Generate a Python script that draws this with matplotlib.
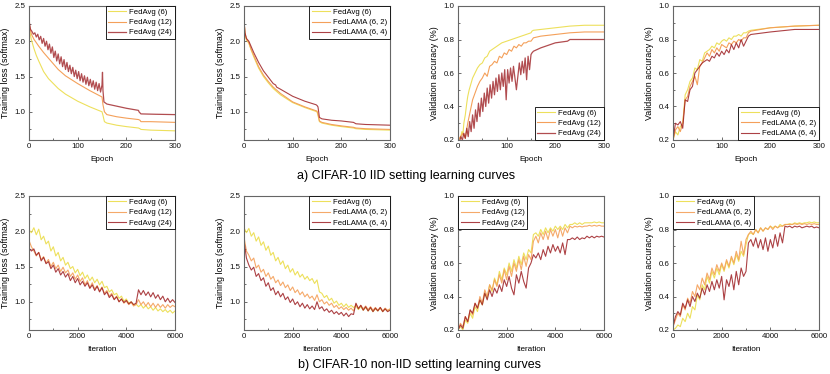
import numpy as np
import matplotlib
matplotlib.use("Agg")
import matplotlib.pyplot as plt
from matplotlib.ticker import AutoMinorLocator, MultipleLocator

plt.rcParams['font.family'] = ['Liberation Sans', 'DejaVu Sans']

C_Y = '#ede05c'
C_O = '#f4a05a'
C_R = '#9e2024'

# ---------------- top row data (epochs) ----------------
ep_s = [0, 2, 5, 10, 15, 20, 30, 40, 50, 60, 75, 100, 125, 150, 152, 155, 160, 180, 200, 225, 228, 230, 250, 300]
p1_y = [2.25, 2.12, 2.02, 1.9, 1.8, 1.72, 1.57, 1.47, 1.4, 1.33, 1.25, 1.15, 1.07, 1.0, 0.95, 0.86, 0.84, 0.81, 0.79, 0.77, 0.76, 0.75, 0.74, 0.73]
p1_o = [2.27, 2.18, 2.1, 2.03, 1.98, 1.93, 1.84, 1.76, 1.68, 1.6, 1.51, 1.4, 1.3, 1.21, 1.1, 1.0, 0.96, 0.93, 0.91, 0.89, 0.88, 0.86, 0.86, 0.85]

ep_d = [0, 3, 6, 9, 12, 15, 18, 21, 24, 27, 30, 33, 36, 39, 42, 45, 48, 51, 54, 57, 60, 63, 66, 69, 72,
        75, 78, 81, 84, 87, 90, 93, 96, 99, 102, 105, 108, 111, 114, 117, 120, 123, 126, 129, 132,
        135, 138, 141, 144, 147, 150]
p1_r_x = ep_d + [151, 152, 154, 160, 180, 200, 225, 226, 230, 260, 300]
p1_r = [2.30, 2.17, 2.14, 2.10, 2.12, 2.06, 2.10, 2.02, 2.07, 1.97, 2.04, 1.93, 2.00, 1.88, 1.96, 1.83,
        1.92, 1.77, 1.86, 1.72, 1.82, 1.68, 1.78, 1.64, 1.74, 1.60, 1.70, 1.57, 1.66, 1.54, 1.63, 1.50,
        1.59, 1.47, 1.57, 1.44, 1.54, 1.42, 1.51, 1.39, 1.49, 1.37, 1.46, 1.35, 1.44, 1.32, 1.42, 1.30,
        1.40, 1.28, 1.38,
        1.56, 1.30, 1.14, 1.11, 1.08, 1.05, 1.02, 1.0, 0.97, 0.965, 0.96]

ep_s2 = [0, 2, 5, 10, 15, 20, 30, 40, 50, 60, 75, 100, 125, 150, 152, 155, 160, 180, 200, 225, 230, 250, 300]
p2_y = [2.3, 2.1, 2.02, 1.97, 1.87, 1.78, 1.62, 1.5, 1.41, 1.33, 1.24, 1.13, 1.06, 1.0, 0.95, 0.86, 0.84, 0.81, 0.79, 0.77, 0.76, 0.75, 0.74]
p2_o = [2.3, 2.12, 2.03, 1.98, 1.88, 1.8, 1.64, 1.52, 1.43, 1.35, 1.26, 1.14, 1.07, 1.01, 0.97, 0.87, 0.85, 0.82, 0.8, 0.78, 0.77, 0.76, 0.75]
p2_r_x = [0, 2, 5, 10, 15, 20, 30, 40, 50, 60, 65, 67, 75, 100, 125, 148, 150, 152, 155, 160, 180, 200, 225, 230, 250, 300]
p2_r = [2.3, 2.12, 2.04, 2.0, 1.92, 1.84, 1.7, 1.58, 1.49, 1.4, 1.38, 1.35, 1.32, 1.22, 1.15, 1.1, 1.09, 1.07, 0.92, 0.9, 0.88, 0.87, 0.85, 0.83, 0.82, 0.81]

ep_n = [0, 5, 10, 15, 20, 25, 30, 35, 40, 45, 50, 55, 60, 65, 70, 75, 80, 85, 90, 95, 100,
        105, 110, 115, 120, 125, 130, 135, 140, 145, 150]
p3_y_x = [0, 5, 8, 10, 12, 15, 18, 20, 23, 25, 28, 30, 35, 40, 45, 50, 55, 60, 65, 70, 75, 80, 90, 100, 110, 120, 130, 140, 150, 152, 155, 170, 200, 230, 260, 300]
p3_y = [0.2, 0.21, 0.25, 0.23, 0.3, 0.35, 0.42, 0.46, 0.5, 0.52, 0.55, 0.57, 0.6, 0.63, 0.65, 0.66, 0.69, 0.7, 0.73, 0.74, 0.75, 0.76, 0.78, 0.79, 0.8, 0.81, 0.82, 0.83, 0.84, 0.85, 0.855, 0.86, 0.87, 0.88, 0.885, 0.885]
p3_o_x = ep_n + [155, 170, 200, 230, 260, 300]
p3_o = [0.2, 0.22, 0.24, 0.21, 0.3, 0.37, 0.44, 0.48, 0.52, 0.55, 0.57, 0.6, 0.58, 0.64, 0.65, 0.67, 0.66, 0.7,
        0.69, 0.72, 0.71, 0.74, 0.73, 0.76, 0.75, 0.77, 0.76, 0.78, 0.78, 0.79, 0.79,
        0.81, 0.82, 0.83, 0.84, 0.845, 0.845]
p3_r_x = ep_d + [152, 155, 170, 200, 225, 230, 300]
p3_r = [0.20, 0.19, 0.22, 0.20, 0.24, 0.21, 0.27, 0.22, 0.31, 0.25, 0.35, 0.27, 0.38, 0.31, 0.42, 0.34,
        0.45, 0.37, 0.48, 0.40, 0.51, 0.42, 0.53, 0.45, 0.55, 0.47, 0.57, 0.49, 0.59, 0.50, 0.60, 0.52,
        0.62, 0.44, 0.62, 0.54, 0.63, 0.55, 0.64, 0.57, 0.50, 0.58, 0.66, 0.59, 0.67, 0.60, 0.69, 0.56,
        0.70, 0.62, 0.71,
        0.72, 0.73, 0.75, 0.78, 0.79, 0.8, 0.8]

p4_x = ep_n + [155, 160, 200, 250, 300]
p4_y = [0.2, 0.25, 0.23, 0.28, 0.3, 0.47, 0.5, 0.55, 0.57, 0.63, 0.62, 0.68, 0.67, 0.72, 0.73, 0.74, 0.76,
        0.75, 0.78, 0.77, 0.79, 0.8, 0.79, 0.81, 0.8, 0.82, 0.82, 0.83, 0.82, 0.84, 0.84,
        0.85, 0.855, 0.87, 0.88, 0.885]
p4_o = [0.2, 0.26, 0.28, 0.25, 0.3, 0.44, 0.46, 0.52, 0.55, 0.58, 0.53, 0.64, 0.66, 0.69, 0.72, 0.7, 0.74,
        0.72, 0.75, 0.73, 0.77, 0.76, 0.75, 0.78, 0.77, 0.79, 0.78, 0.8, 0.79, 0.81, 0.81,
        0.84, 0.85, 0.87, 0.88, 0.885]
p4_r = [0.2, 0.3, 0.29, 0.31, 0.27, 0.44, 0.43, 0.5, 0.52, 0.6, 0.62, 0.64, 0.66, 0.67, 0.68, 0.67, 0.7,
        0.69, 0.72, 0.7, 0.73, 0.71, 0.74, 0.72, 0.77, 0.74, 0.78, 0.75, 0.8, 0.76, 0.79,
        0.82, 0.83, 0.845, 0.86, 0.86]

# ---------------- bottom row data (iterations, every 100) ----------------
it = list(range(0, 6001, 100))
p5_y = [2.02, 1.98, 2.05, 1.95, 2.03, 1.88, 1.93, 1.82, 1.86, 1.72, 1.78, 1.65, 1.7, 1.58, 1.63, 1.52, 1.56,
        1.47, 1.5, 1.41, 1.46, 1.37, 1.42, 1.33, 1.38, 1.3, 1.35, 1.27, 1.32, 1.24, 1.29, 1.2, 1.22, 1.14,
        1.17, 1.1, 1.12, 1.05, 1.08, 1.01, 1.04, 0.98, 1.0, 0.95, 0.97, 0.93, 0.96, 0.91, 0.95, 0.9, 0.93,
        0.88, 0.92, 0.87, 0.9, 0.86, 0.89, 0.85, 0.88, 0.84, 0.87]
p5_o = [1.87, 1.78, 1.72, 1.65, 1.7, 1.6, 1.64, 1.55, 1.6, 1.5, 1.56, 1.47, 1.52, 1.43, 1.49, 1.41, 1.45,
        1.36, 1.41, 1.32, 1.38, 1.29, 1.34, 1.24, 1.3, 1.2, 1.27, 1.18, 1.23, 1.15, 1.21, 1.12, 1.16, 1.08,
        1.12, 1.04, 1.08, 1.0, 1.04, 0.98, 1.01, 0.96, 0.99, 0.94, 0.96, 1.03, 0.96, 1.0, 0.94, 0.99, 0.93,
        0.98, 0.92, 0.97, 0.92, 0.96, 0.91, 0.96, 0.92, 0.95, 0.93]
p5_r = [1.76, 1.72, 1.75, 1.66, 1.7, 1.58, 1.63, 1.54, 1.57, 1.47, 1.52, 1.42, 1.47, 1.38, 1.43, 1.35, 1.4,
        1.3, 1.36, 1.27, 1.33, 1.24, 1.29, 1.22, 1.27, 1.19, 1.24, 1.16, 1.22, 1.14, 1.2, 1.1, 1.14, 1.06,
        1.1, 1.03, 1.07, 1.0, 1.04, 0.99, 1.02, 0.97, 1.0, 0.96, 0.98, 1.17, 1.1, 1.16, 1.09, 1.14, 1.07,
        1.13, 1.05, 1.1, 1.03, 1.08, 1.0, 1.05, 0.99, 1.03, 0.99]

p6_y = [2.05, 1.98, 2.04, 1.93, 1.98, 1.86, 1.92, 1.8, 1.85, 1.73, 1.79, 1.66, 1.7, 1.58, 1.63, 1.53, 1.58,
        1.47, 1.52, 1.42, 1.47, 1.38, 1.43, 1.35, 1.39, 1.32, 1.36, 1.3, 1.33, 1.26, 1.31, 1.14, 1.12, 1.06,
        1.09, 1.02, 1.05, 0.98, 1.01, 0.95, 0.98, 0.93, 0.97, 0.92, 0.95, 0.92, 0.94, 0.89, 0.93, 0.88, 0.92,
        0.87, 0.91, 0.86, 0.9, 0.87, 0.91, 0.86, 0.9, 0.87, 0.89]
p6_o = [1.92, 1.72, 1.66, 1.58, 1.62, 1.48, 1.52, 1.42, 1.46, 1.36, 1.41, 1.32, 1.36, 1.27, 1.31, 1.23, 1.28,
        1.2, 1.24, 1.16, 1.21, 1.13, 1.17, 1.1, 1.14, 1.07, 1.11, 1.05, 1.08, 1.02, 1.1, 1.0, 1.03, 0.97,
        1.0, 0.95, 0.98, 0.92, 0.95, 0.9, 0.93, 0.89, 0.92, 0.88, 0.91, 0.87, 0.97, 0.91, 0.95, 0.9, 0.94,
        0.89, 0.93, 0.88, 0.92, 0.88, 0.92, 0.87, 0.91, 0.88, 0.9]
p6_r = [1.87, 1.62, 1.52, 1.45, 1.49, 1.36, 1.4, 1.3, 1.34, 1.22, 1.27, 1.16, 1.2, 1.1, 1.15, 1.07, 1.12,
        1.03, 1.07, 0.99, 1.04, 0.96, 1.0, 0.93, 0.98, 0.91, 0.96, 0.9, 0.94, 0.89, 1.0, 0.9, 0.93, 0.87,
        0.9, 0.85, 0.88, 0.83, 0.86, 0.82, 0.85, 0.8, 0.84, 0.79, 0.83, 0.82, 0.98, 0.9, 0.95, 0.88, 0.93,
        0.87, 0.92, 0.86, 0.91, 0.87, 0.92, 0.86, 0.9, 0.86, 0.88]

p7_y = [0.2, 0.22, 0.2, 0.26, 0.24, 0.3, 0.27, 0.34, 0.31, 0.38, 0.35, 0.42, 0.39, 0.47, 0.43, 0.51, 0.47,
        0.55, 0.5, 0.57, 0.53, 0.6, 0.55, 0.62, 0.57, 0.64, 0.59, 0.66, 0.62, 0.68, 0.66, 0.77, 0.78, 0.76,
        0.8, 0.77, 0.81, 0.78, 0.81, 0.79, 0.82, 0.8, 0.82, 0.8, 0.83, 0.81, 0.83, 0.83, 0.84, 0.83, 0.84,
        0.83, 0.84, 0.84, 0.84, 0.84, 0.845, 0.84, 0.845, 0.84, 0.84]
p7_o = [0.2, 0.24, 0.22, 0.28, 0.25, 0.32, 0.29, 0.36, 0.33, 0.4, 0.36, 0.44, 0.4, 0.47, 0.44, 0.5, 0.46,
        0.53, 0.48, 0.56, 0.5, 0.58, 0.52, 0.6, 0.55, 0.62, 0.56, 0.64, 0.58, 0.65, 0.62, 0.73, 0.76, 0.72,
        0.78, 0.74, 0.79, 0.74, 0.8, 0.76, 0.8, 0.75, 0.81, 0.76, 0.81, 0.78, 0.82, 0.81, 0.82, 0.815, 0.82,
        0.815, 0.82, 0.82, 0.825, 0.82, 0.825, 0.82, 0.825, 0.82, 0.82]
p7_r = [0.2, 0.23, 0.21, 0.28, 0.25, 0.32, 0.3, 0.36, 0.33, 0.38, 0.35, 0.42, 0.38, 0.44, 0.4, 0.45, 0.42,
        0.47, 0.43, 0.5, 0.46, 0.52, 0.45, 0.41, 0.53, 0.48, 0.55, 0.49, 0.45, 0.57, 0.6, 0.65, 0.63, 0.66,
        0.62, 0.68, 0.64, 0.7, 0.66, 0.71, 0.67, 0.7, 0.66, 0.72, 0.65, 0.74, 0.74, 0.75, 0.74, 0.755, 0.74,
        0.75, 0.745, 0.76, 0.75, 0.76, 0.75, 0.76, 0.755, 0.76, 0.755]

p8_y = [0.2, 0.21, 0.23, 0.22, 0.27, 0.25, 0.3, 0.27, 0.34, 0.32, 0.41, 0.38, 0.47, 0.44, 0.52, 0.48, 0.55,
        0.51, 0.57, 0.53, 0.59, 0.55, 0.61, 0.57, 0.63, 0.59, 0.65, 0.61, 0.67, 0.64, 0.71, 0.77, 0.78, 0.77,
        0.8, 0.78, 0.81, 0.79, 0.81, 0.8, 0.82, 0.81, 0.82, 0.81, 0.83, 0.82, 0.83, 0.83, 0.835, 0.83, 0.84,
        0.835, 0.84, 0.835, 0.84, 0.84, 0.845, 0.84, 0.845, 0.84, 0.84]
p8_o = [0.22, 0.26, 0.3, 0.28, 0.35, 0.32, 0.39, 0.36, 0.43, 0.4, 0.47, 0.44, 0.51, 0.47, 0.54, 0.5, 0.57,
        0.53, 0.59, 0.55, 0.6, 0.56, 0.62, 0.58, 0.64, 0.6, 0.67, 0.62, 0.73, 0.65, 0.74, 0.77, 0.79, 0.77,
        0.8, 0.78, 0.81, 0.79, 0.81, 0.8, 0.82, 0.8, 0.82, 0.81, 0.82, 0.82, 0.83, 0.83, 0.83, 0.83, 0.835,
        0.83, 0.835, 0.83, 0.835, 0.83, 0.835, 0.83, 0.835, 0.83, 0.83]
p8_r = [0.22, 0.28, 0.31, 0.29, 0.36, 0.33, 0.38, 0.34, 0.4, 0.37, 0.42, 0.39, 0.45, 0.41, 0.47, 0.43, 0.49,
        0.44, 0.5, 0.45, 0.52, 0.38, 0.5, 0.46, 0.53, 0.44, 0.55, 0.47, 0.57, 0.52, 0.55, 0.72, 0.74, 0.7,
        0.75, 0.69, 0.74, 0.68, 0.75, 0.67, 0.74, 0.69, 0.77, 0.7, 0.78, 0.72, 0.82, 0.815, 0.82, 0.81, 0.82,
        0.815, 0.82, 0.81, 0.815, 0.82, 0.815, 0.82, 0.81, 0.815, 0.81]

lab_avg = ['FedAvg (6)', 'FedAvg (12)', 'FedAvg (24)']
lab_lama = ['FedAvg (6)', 'FedLAMA (6, 2)', 'FedLAMA (6, 4)']

W, H = 830, 374
fig = plt.figure(figsize=(W / 100, H / 100), dpi=100)

lefts = [29, 244, 458, 673]
aw = 146
tops = [6, 196]
ah = 134


def make_ax(col, row):
    l = lefts[col]
    t = tops[row]
    ax = fig.add_axes([l / W, 1 - (t + ah) / H, aw / W, ah / H])
    for s in ax.spines.values():
        s.set_color('#666666')
        s.set_linewidth(0.8)
    ax.tick_params(which='both', direction='in', colors='#555555', labelcolor='#111111',
                   labelsize=5.7, width=0.6, pad=2.5)
    ax.tick_params(which='major', length=2.5)
    ax.tick_params(which='minor', length=1.5)
    ax.xaxis.set_minor_locator(AutoMinorLocator(2))
    ax.yaxis.set_minor_locator(AutoMinorLocator(2))
    return ax


def style(ax, kind, xlab, labels, loc):
    if kind == 'loss':
        ax.set_ylim(0.6, 2.5)
        ax.yaxis.set_major_locator(MultipleLocator(0.5))
        ax.set_ylabel('Training loss (softmax)', fontsize=6.4, labelpad=3)
    else:
        ax.set_ylim(0.2, 1.0)
        ax.yaxis.set_major_locator(MultipleLocator(0.2))
        ax.set_ylabel('Validation accuracy (%)', fontsize=6.4, labelpad=3)
    if xlab == 'Epoch':
        ax.set_xlim(0, 300)
        ax.xaxis.set_major_locator(MultipleLocator(100))
    else:
        ax.set_xlim(0, 6000)
        ax.xaxis.set_major_locator(MultipleLocator(2000))
    ax.set_xlabel(xlab, fontsize=5.9, labelpad=4)
    leg = ax.legend(labels, loc=loc, prop={'size': 5.6}, frameon=True, fancybox=False,
                    edgecolor='black', framealpha=1, borderaxespad=0, borderpad=0.35,
                    labelspacing=0.35, handlelength=2.3, handletextpad=0.4)
    leg.get_frame().set_linewidth(0.6)


lw = 0.8
# panel 1
ax = make_ax(0, 0)
ax.plot(ep_s, p1_y, color=C_Y, lw=lw)
ax.plot(ep_s, p1_o, color=C_O, lw=lw)
ax.plot(p1_r_x, p1_r, color=C_R, lw=0.9, alpha=0.8)
style(ax, 'loss', 'Epoch', lab_avg, 'upper right')

# panel 2
ax = make_ax(1, 0)
ax.plot(ep_s2, p2_y, color=C_Y, lw=lw)
ax.plot(ep_s2, p2_o, color=C_O, lw=lw)
ax.plot(p2_r_x, p2_r, color=C_R, lw=lw, alpha=0.85)
style(ax, 'loss', 'Epoch', lab_lama, 'upper right')

# panel 3
ax = make_ax(2, 0)
ax.plot(p3_y_x, p3_y, color=C_Y, lw=lw)
ax.plot(p3_o_x, p3_o, color=C_O, lw=lw)
ax.plot(p3_r_x, p3_r, color=C_R, lw=0.9, alpha=0.8)
style(ax, 'acc', 'Epoch', lab_avg, 'lower right')

# panel 4
ax = make_ax(3, 0)
ax.plot(p4_x, p4_y, color=C_Y, lw=lw)
ax.plot(p4_x, p4_o, color=C_O, lw=lw)
ax.plot(p4_x, p4_r, color=C_R, lw=lw, alpha=0.85)
style(ax, 'acc', 'Epoch', lab_lama, 'lower right')

# panel 5
ax = make_ax(0, 1)
ax.plot(it, p5_y, color=C_Y, lw=lw)
ax.plot(it, p5_o, color=C_O, lw=lw, alpha=0.9)
ax.plot(it, p5_r, color=C_R, lw=lw, alpha=0.85)
style(ax, 'loss', 'Iteration', lab_avg, 'upper right')

# panel 6
ax = make_ax(1, 1)
ax.plot(it, p6_y, color=C_Y, lw=lw)
ax.plot(it, p6_o, color=C_O, lw=lw, alpha=0.9)
ax.plot(it, p6_r, color=C_R, lw=lw, alpha=0.85)
style(ax, 'loss', 'Iteration', lab_lama, 'upper right')

# panel 7
ax = make_ax(2, 1)
ax.plot(it, p7_y, color=C_Y, lw=lw)
ax.plot(it, p7_o, color=C_O, lw=lw, alpha=0.9)
ax.plot(it, p7_r, color=C_R, lw=lw, alpha=0.85)
style(ax, 'acc', 'Iteration', lab_avg, 'upper left')

# panel 8
ax = make_ax(3, 1)
ax.plot(it, p8_y, color=C_Y, lw=lw)
ax.plot(it, p8_o, color=C_O, lw=lw, alpha=0.9)
ax.plot(it, p8_r, color=C_R, lw=lw, alpha=0.85)
style(ax, 'acc', 'Iteration', lab_lama, 'upper left')

fig.text(406 / W, 1 - 176 / H, 'a) CIFAR-10 IID setting learning curves', ha='center', va='center', fontsize=9)
fig.text(420 / W, 1 - 365 / H, 'b) CIFAR-10 non-IID setting learning curves', ha='center', va='center', fontsize=9)

fig.savefig('out.png', dpi=100)
